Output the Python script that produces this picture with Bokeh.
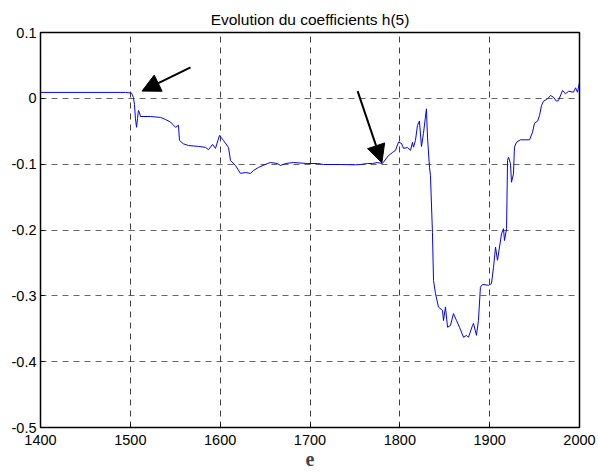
from bokeh.plotting import figure
from bokeh.models import Range1d, FixedTicker, Arrow, NormalHead, Title
from bokeh.embed import file_html
from bokeh.resources import INLINE

# Data: iteration index and coefficient value h(5)
iterations = [1400, 1494.6, 1501.3, 1503.5, 1504.6, 1505.7, 1506.9, 1508, 1509, 1510,
              1511.3, 1522.4, 1533.6, 1539, 1544.7, 1550.3, 1553.6, 1554.7, 1559, 1564.7,
              1575.9, 1583.7, 1587, 1591.5, 1594.8, 1599.2, 1603.7, 1609.3, 1611.5, 1617,
              1622.6, 1628.2, 1633.7, 1637.1, 1642.6, 1652.7, 1656, 1663.8, 1667.1, 1672.7,
              1681.6, 1697.2, 1708.3, 1715, 1733.9, 1750.6, 1756.2, 1764, 1769.5, 1775.1,
              1780.7, 1781.8, 1787.3, 1791.8, 1795.2, 1798.5, 1801.9, 1804.1, 1808.6, 1811.9,
              1814.1, 1815.2, 1817.4, 1819.6, 1821.8, 1824.1, 1826.3, 1829.6, 1830.8, 1833,
              1834.1, 1836.3, 1837.5, 1839.7, 1843, 1847.5, 1848.6, 1850.8, 1853.1, 1856.4,
              1859.7, 1863.1, 1866.4, 1870.9, 1874.2, 1876.4, 1880.9, 1882, 1885.3, 1887.5,
              1889.7, 1892, 1898.7, 1902, 1904.3, 1906.5, 1908.7, 1913.2, 1915.4, 1916.5,
              1918.8, 1919.9, 1921, 1923.2, 1924.3, 1926.5, 1927.6, 1929.9, 1934.3, 1944.4,
              1947.7, 1949.9, 1953.3, 1955.5, 1957.7, 1959.9, 1964.4, 1967.7, 1971, 1974.4,
              1976.6, 1981.1, 1984.4, 1987.8, 1993.3, 1995.6, 1997.8, 2000]
h5 = [0.009, 0.009, 0.008, 0.0013, -0.0094, -0.031, -0.044, -0.031, -0.0185, -0.021,
      -0.0276, -0.0276, -0.029, -0.032, -0.036, -0.044, -0.041, -0.064, -0.069, -0.0717,
      -0.073, -0.0745, -0.078, -0.070, -0.076, -0.0565, -0.064, -0.0747, -0.0944, -0.102,
      -0.114, -0.1127, -0.114, -0.1096, -0.105, -0.099, -0.0975, -0.099, -0.102, -0.099,
      -0.0975, -0.099, -0.099, -0.1005, -0.1005, -0.101, -0.1005, -0.099, -0.099, -0.0975,
      -0.099, -0.097, -0.087, -0.0823, -0.079, -0.0665, -0.0685, -0.076, -0.0747, -0.079,
      -0.067, -0.0742, -0.064, -0.0413, -0.0344, -0.0732, -0.0534, -0.0159, -0.059, -0.1046,
      -0.117, -0.2035, -0.2767, -0.2965, -0.317, -0.3223, -0.3375, -0.317, -0.3477, -0.345,
      -0.327, -0.3375, -0.3477, -0.363, -0.360, -0.363, -0.345, -0.342, -0.360, -0.3375,
      -0.287, -0.2826, -0.284, -0.2815, -0.2565, -0.226, -0.246, -0.2058, -0.198, -0.216,
      -0.198, -0.0944, -0.0894, -0.0995, -0.1274, -0.1147, -0.0742, -0.0666, -0.063, -0.063,
      -0.0515, -0.0378, -0.0347, -0.026, -0.011, -0.0044, -0.0007, 0.0043, 0.0017, -0.0044,
      -0.0033, 0.0119, 0.0069, 0.0108, 0.0093, 0.016, 0.0093, 0.0245]

xtick_values = [1400, 1500, 1600, 1700, 1800, 1900, 2000]
ytick_values = [-0.5, -0.4, -0.3, -0.2, -0.1, 0, 0.1]
ytick_labels = ["-0.5", "-0.4", "-0.3", "-0.2", "-0.1", "0", "0.1"]

# Annotation arrows (start x, start y, end x, end y) in data units
arrow_x_start = [1567, 1753]
arrow_y_start = [0.047, 0.011]
arrow_x_end = [1513, 1780]
arrow_y_end = [0.011, -0.098]

title_text = "Evolution du coefficients h(5)"
x_label = "e"

p = figure(width=598, height=475, output_backend="svg", toolbar_location=None,
           x_range=Range1d(1400, 2000), y_range=Range1d(-0.5, 0.1),
           min_border_left=40, min_border_right=19, min_border_top=32, min_border_bottom=48,
           background_fill_color="white", border_fill_color="white")

p.title = Title(text=title_text, align="center", text_font="Liberation Sans",
                text_font_size="15.5px", text_font_style="normal", text_color="black",
                offset=0, standoff=9)

p.line(iterations, h5, line_color="#0000ff", line_width=1)

for xs, ys, xe, ye in zip(arrow_x_start, arrow_y_start, arrow_x_end, arrow_y_end):
    p.add_layout(Arrow(end=NormalHead(size=18, fill_color="black", line_color="black"),
                       x_start=xs, y_start=ys, x_end=xe, y_end=ye,
                       line_color="black", line_width=2))

p.xaxis.ticker = FixedTicker(ticks=xtick_values)
p.yaxis.ticker = FixedTicker(ticks=ytick_values)
p.yaxis.major_label_overrides = {v: s for v, s in zip(ytick_values, ytick_labels)}

for ax in (p.xaxis[0], p.yaxis[0]):
    ax.axis_line_color = "black"
    ax.axis_line_width = 1
    ax.major_tick_in = 4
    ax.major_tick_out = 0
    ax.minor_tick_line_color = None
    ax.major_label_text_font = "Liberation Sans"
    ax.major_label_text_font_size = "14.5px"
    ax.major_label_text_color = "black"

p.xaxis.major_label_standoff = 7
p.yaxis.major_label_standoff = 4

p.xaxis.axis_label = x_label
p.xaxis.axis_label_text_font = "Liberation Serif"
p.xaxis.axis_label_text_font_style = "bold"
p.xaxis.axis_label_text_font_size = "20px"
p.xaxis.axis_label_standoff = 4

p.xgrid.grid_line_color = "black"
p.ygrid.grid_line_color = "black"
p.xgrid.grid_line_alpha = 0.75
p.ygrid.grid_line_alpha = 0.6
p.xgrid.grid_line_dash = "6 5"
p.ygrid.grid_line_dash = "6 5"

p.outline_line_color = "black"
p.outline_line_width = 1.5
p.outline_line_alpha = 1

open("out.html", "w").write(file_html(p, INLINE))
